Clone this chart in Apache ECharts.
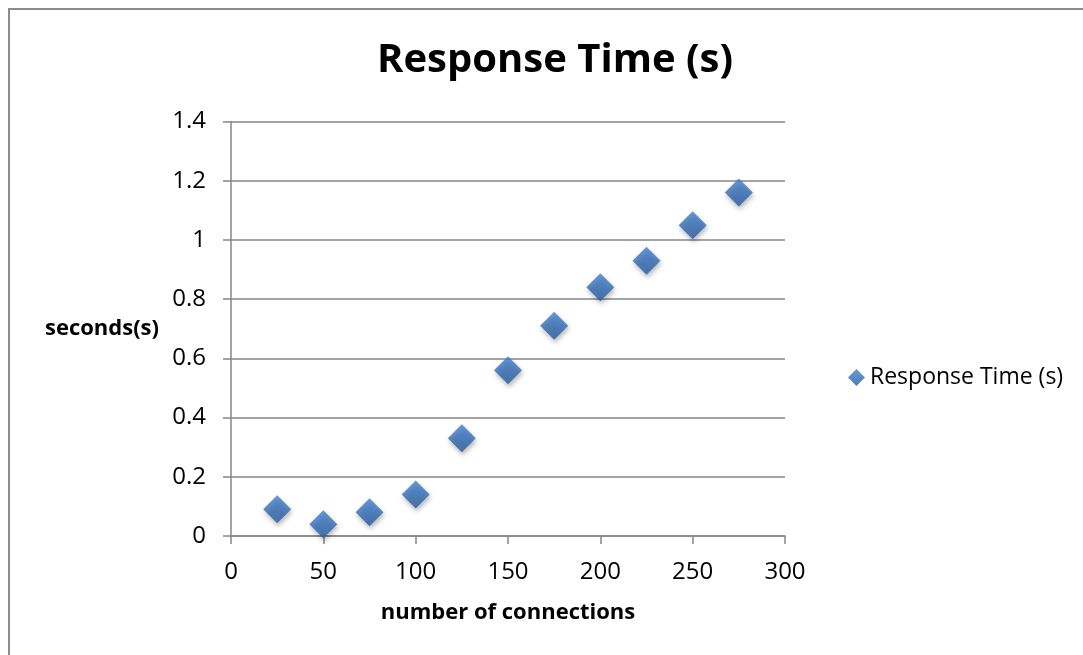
<!DOCTYPE html>
<html>
<head>
<meta charset="utf-8">
<script src="https://cdn.jsdelivr.net/npm/echarts@6/dist/echarts.min.js"></script>
<style>
html,body{margin:0;padding:0;background:#fff;overflow:hidden;}
#frame{position:absolute;left:8px;top:8px;width:1100px;height:700px;border:2px solid #8c8c8c;box-sizing:border-box;}
#chart{position:absolute;left:0;top:0;width:1083px;height:655px;}
</style>
</head>
<body>
<div id="frame"></div>
<div id="chart"></div>
<script>
const connections = [25, 50, 75, 100, 125, 150, 175, 200, 225, 250, 275];
const responseTime = [0.09, 0.04, 0.08, 0.14, 0.33, 0.56, 0.71, 0.84, 0.93, 1.05, 1.16];
const seriesName = 'Response Time (s)';
const titleText = 'Response Time (s)';
const xAxisName = 'number of connections';
const yAxisName = 'seconds(s)';

const font = '"Open Sans", Lato, sans-serif';
const chart = echarts.init(document.getElementById('chart'), null, {renderer: 'canvas'});
const points = connections.map((c, i) => [c, responseTime[i]]);
chart.setOption({
  backgroundColor: 'transparent',
  animation: false,
  title: {
    text: titleText,
    left: 550, top: 36, textAlign: 'center',
    textStyle: {fontFamily: font, fontWeight: 'bold', fontSize: 40, color: '#000'}
  },
  legend: {
    left: 843, top: 361,
    itemWidth: 17, itemHeight: 17, itemGap: 3,
    textStyle: {fontFamily: font, fontSize: 23, color: '#000'},
    data: [{name: seriesName, icon: 'diamond'}]
  },
  grid: {left: 231, right: 298, top: 121.5, bottom: 119, containLabel: false},
  xAxis: {
    type: 'value', min: 0, max: 300, interval: 50,
    name: xAxisName, nameLocation: 'middle', nameGap: 66,
    nameTextStyle: {fontFamily: font, fontWeight: 'bold', fontSize: 22, color: '#000'},
    axisLine: {show: true, onZero: false, lineStyle: {color: '#868686', width: 1.5}},
    axisTick: {show: true, length: 8, lineStyle: {color: '#868686', width: 1.5}},
    axisLabel: {fontFamily: font, fontSize: 24, color: '#000', margin: 24},
    splitLine: {show: false}
  },
  yAxis: {
    type: 'value', min: 0, max: 1.4, interval: 0.2,
    name: yAxisName, nameLocation: 'middle', nameRotate: 0, nameGap: 72,
    nameTextStyle: {fontFamily: font, fontWeight: 'bold', fontSize: 22, color: '#000', align: 'right'},
    axisLine: {show: true, lineStyle: {color: '#868686', width: 1.5}},
    axisTick: {show: true, length: 8, lineStyle: {color: '#868686', width: 1.5}},
    axisLabel: {fontFamily: font, fontSize: 24, color: '#000', margin: 25,
      formatter: v => String(Math.round(v * 10) / 10)},
    splitLine: {show: true, lineStyle: {color: '#868686', width: 1.5}}
  },
  series: [{
    name: seriesName,
    type: 'scatter',
    symbol: 'diamond',
    symbolSize: [28, 28],
    data: points,
    itemStyle: {
      color: new echarts.graphic.LinearGradient(0, 0, 0, 1, [
        {offset: 0, color: '#3f80d0'},
        {offset: 1, color: '#285a9e'}
      ]),
      shadowBlur: 5, shadowOffsetX: 1, shadowOffsetY: 3, shadowColor: 'rgba(0,0,0,0.35)'
    }
  }]
});
</script>
</body>
</html>
